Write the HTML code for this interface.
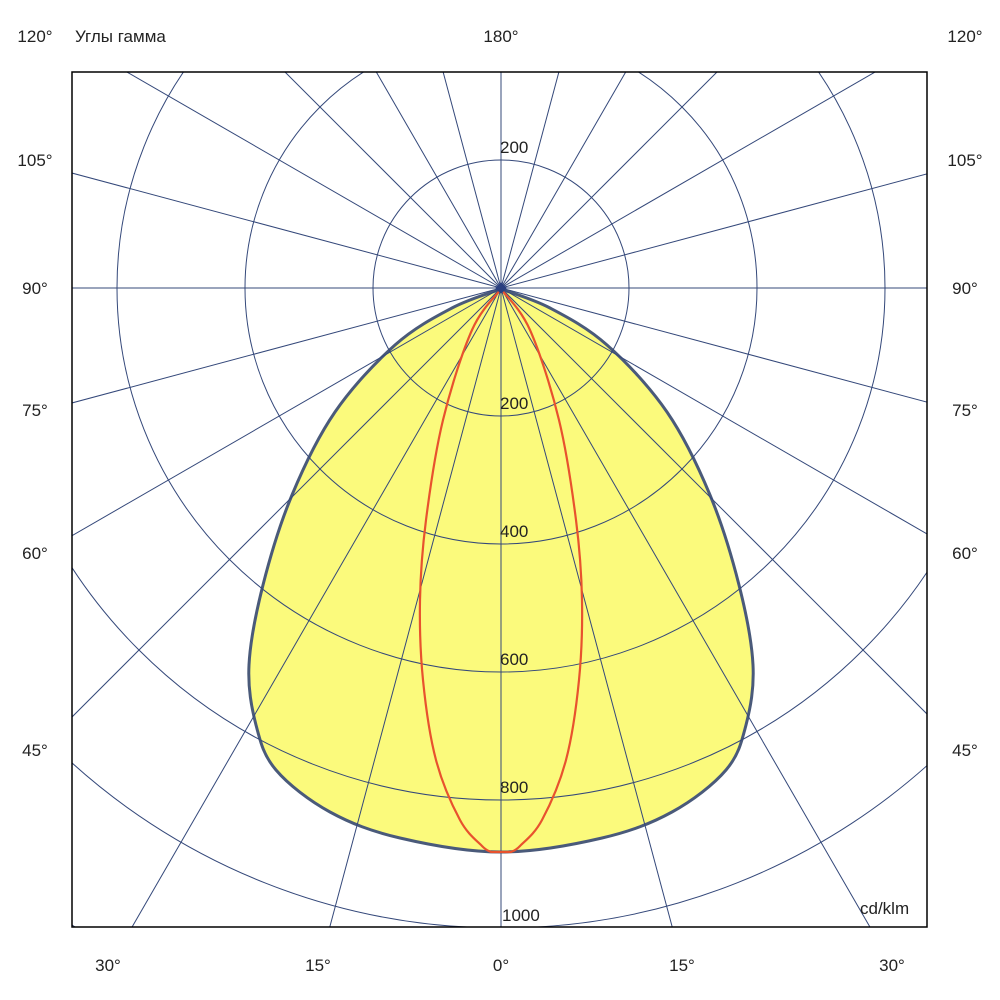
<!DOCTYPE html>
<html><head><meta charset="utf-8"><style>
html,body{margin:0;background:#fff;overflow:hidden;width:1000px;height:1000px}
svg{display:block}
text{font-family:"Liberation Sans",sans-serif;font-size:17px;fill:#222}
</style></head><body>
<svg id="s" width="1000" height="1000" viewBox="0 0 1000 1000">
<defs><clipPath id="c"><rect x="72" y="72" width="855" height="855"/></clipPath></defs>
<g clip-path="url(#c)">
<path id="yel" fill="#fbfa7c" stroke="#4a5a7a" stroke-width="3"/>
<g id="grid" stroke="#34487a" stroke-width="1" fill="none"></g>
<path id="red" fill="none" stroke="#e8522e" stroke-width="2.2"/>
</g>
<rect x="72" y="72" width="855" height="855" fill="none" stroke="#000" stroke-width="1.5"/>
<path d="M501 282 L507 288 L501 294 L495 288Z" fill="#2a3f80"/>
<g text-anchor="middle">
<text x="35" y="42">120°</text><text x="35" y="166">105°</text><text x="35" y="294">90°</text>
<text x="35" y="416">75°</text><text x="35" y="559">60°</text><text x="35" y="756">45°</text>
<text x="965" y="42">120°</text><text x="965" y="166">105°</text><text x="965" y="294">90°</text>
<text x="965" y="416">75°</text><text x="965" y="559">60°</text><text x="965" y="756">45°</text>
<text x="108" y="971">30°</text><text x="318" y="971">15°</text><text x="501" y="971">0°</text>
<text x="682" y="971">15°</text><text x="892" y="971">30°</text>
<text x="501" y="42">180°</text>
</g>
<text x="75" y="42">Углы гамма</text>
<text x="500" y="153">200</text><text x="500" y="409">200</text><text x="500" y="537">400</text>
<text x="500" y="665">600</text><text x="500" y="793">800</text><text x="502" y="921">1000</text>
<text x="860" y="914">cd/klm</text>
</svg>
<script>
var g=document.getElementById('grid'),cx=501,cy=288,h='';
for(var k=1;k<=7;k++)h+='<circle cx="501" cy="288" r="'+128*k+'"/>';
for(var a=0;a<360;a+=15){var r=a*Math.PI/180;h+='<line x1="501" y1="288" x2="'+(cx+1500*Math.sin(r))+'" y2="'+(cy+1500*Math.cos(r))+'"/>';}
g.innerHTML=h;
function cr(p){var d='M'+p[0][0]+' '+p[0][1];for(var i=0;i<p.length-1;i++){var p0=p[i-1]||p[i],p1=p[i],p2=p[i+1],p3=p[i+2]||p2;
d+=' C'+(p1[0]+(p2[0]-p0[0])/6)+' '+(p1[1]+(p2[1]-p0[1])/6)+' '+(p2[0]-(p3[0]-p1[0])/6)+' '+(p2[1]-(p3[1]-p1[1])/6)+' '+p2[0]+' '+p2[1];}return d;}
function sym(half){var r=half.slice();for(var i=half.length-2;i>=0;i--)r.push([1002-half[i][0],half[i][1]]);return r;}
var y=[[501,289],[452,308],[395,345],[335,412],[292,495],[263,585],[249,665],[256,725],[276,770],[330,812],[400,838],[501,852]];
document.getElementById('yel').setAttribute('d',cr(sym(y))+'Z');
var rd=[[501,289],[472,330],[443,420],[426,520],[420,600],[423,680],[436,760],[460,820],[482,846],[491,852]];
document.getElementById('red').setAttribute('d',cr(rd)+' L511 852 '+cr(rd.slice().reverse().map(function(p){return[1002-p[0],p[1]]})).replace(/^M[^C]*/,''));
</script>
</body></html>
